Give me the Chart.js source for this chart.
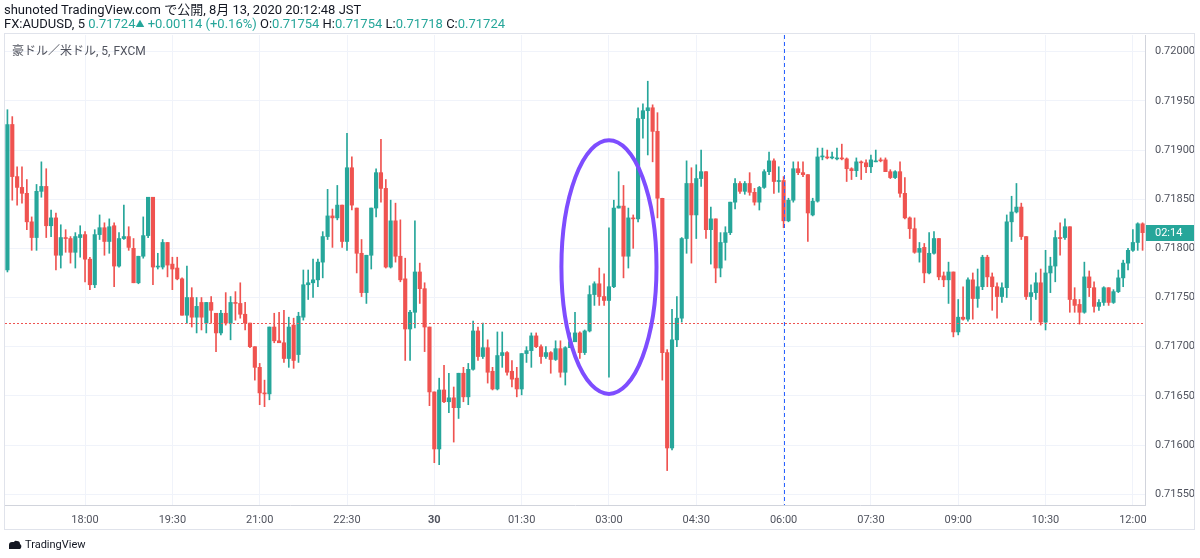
<!DOCTYPE html>
<html>
<head>
<meta charset="utf-8">
<script src="https://cdn.jsdelivr.net/npm/chart.js@4.4.0/dist/chart.umd.min.js"></script>
<style>
  html, body { margin: 0; padding: 0; background: #fff; }
  body { width: 1200px; height: 558px; position: relative; overflow: hidden;
         font-family: Roboto, "Noto Sans CJK JP", sans-serif; color: #131722; }
  #wrap { position: absolute; left: 0; top: 0; width: 1200px; height: 558px; }
  .hdr { position: absolute; left: 4px; font-size: 13px; white-space: nowrap; line-height: 14px; }
  .up { color: #26a69a; }
  .tri { font-size: 9px; vertical-align: 1px; }
  #frame { position: absolute; left: 4px; top: 33px; width: 1191px; height: 497px; border: 1px solid #e0e3eb; box-sizing: border-box; pointer-events: none; }
  #legend { position: absolute; left: 12px; top: 41px; font-size: 12px; color: #50535e; white-space: nowrap; }
  #footer { position: absolute; left: 8px; top: 538px; font-size: 11px; color: #131722; display: flex; align-items: center; gap: 3px; }
</style>
</head>
<body>
<div id="wrap"><canvas id="chart"></canvas></div>
<div id="frame"></div>
<div class="hdr" style="top:3px">shunoted TradingView.com で公開, 8月 13, 2020 20:12:48 JST</div>
<div class="hdr" style="top:17px">FX:AUDUSD, 5 <span class="up">0.71724<span class="tri">▲</span> +0.00114 (+0.16%)</span> O:<span class="up">0.71754</span> H:<span class="up">0.71754</span> L:<span class="up">0.71718</span> C:<span class="up">0.71724</span></div>
<div id="legend">豪ドル／米ドル, 5, FXCM</div>
<div id="footer">
  <svg width="14" height="10" viewBox="0 0 14 10"><path d="M1 9 L1 5 Q1 2 4 2 L6 2 Q7 0 9 1 Q12 1 12 4 Q14 5 13 8 L12 9 Z" fill="#131722"/></svg>
  <span>TradingView</span>
</div>
<script>
// 5-minute candles, 16:40 -> 12:10
const startMinutes = 16 * 60 + 40
const candleCount = 235
const times = []
for (let i = 0; i < candleCount; i++) {
  const m = (startMinutes + i * 5) % (24 * 60)
  times.push(String(Math.floor(m / 60)).padStart(2, '0') + ':' + String(m % 60).padStart(2, '0'))
}

const tickTimes = ['18:00', '19:30', '21:00', '22:30', '00:00', '01:30', '03:00', '04:30', '06:00', '07:30', '09:00', '10:30', '12:00']
const tickTexts = ['18:00', '19:30', '21:00', '22:30', '30', '01:30', '03:00', '04:30', '06:00', '07:30', '09:00', '10:30', '12:00']

const opens = [
  0.71778,0.71926,0.71873,0.71862,0.71856,0.71827,0.71811,0.71858,0.71863,0.71823,
  0.71831,0.71793,0.71811,0.71810,0.71796,0.71811,0.71814,0.71789,0.71763,0.71814,
  0.71821,0.71807,0.71823,0.71782,0.71810,0.71812,0.71800,0.71765,0.71792,0.71813,
  0.71852,0.71781,0.71781,0.71806,0.71784,0.71780,0.71769,0.71732,0.71750,0.71730,
  0.71745,0.71724,0.71745,0.71734,0.71714,0.71734,0.71724,0.71745,0.71744,0.71733,
  0.71724,0.71700,0.71679,0.71653,0.71652,0.71720,0.71706,0.71704,0.71688,0.71722,
  0.71692,0.71730,0.71763,0.71765,0.71768,0.71786,0.71812,0.71833,0.71831,0.71844,
  0.71807,0.71882,0.71841,0.71795,0.71755,0.71793,0.71841,0.71877,0.71861,0.71781,
  0.71828,0.71792,0.71769,0.71718,0.71735,0.71776,0.71759,0.71720,0.71654,0.71596,
  0.71656,0.71644,0.71648,0.71638,0.71673,0.71649,0.71677,0.71716,0.71690,0.71699,
  0.71675,0.71657,0.71691,0.71694,0.71675,0.71668,0.71657,0.71693,0.71696,0.71711,
  0.71700,0.71690,0.71694,0.71687,0.71698,0.71674,0.71699,0.71705,0.71714,0.71694,
  0.71716,0.71753,0.71764,0.71751,0.71747,0.71761,0.71841,0.71843,0.71792,0.71831,
  0.71830,0.71932,0.71940,0.71943,0.71919,0.71851,0.71694,0.71597,0.71707,0.71729,
  0.71810,0.71866,0.71834,0.71871,0.71878,0.71819,0.71830,0.71780,0.71806,0.71816,
  0.71847,0.71866,0.71858,0.71866,0.71857,0.71847,0.71862,0.71878,0.71889,0.71868,
  0.71869,0.71828,0.71849,0.71881,0.71877,0.71875,0.71834,0.71848,0.71893,0.71893,
  0.71892,0.71891,0.71892,0.71891,0.71881,0.71879,0.71888,0.71887,0.71883,0.71888,
  0.71890,0.71890,0.71878,0.71872,0.71878,0.71856,0.71831,0.71820,0.71796,0.71801,
  0.71775,0.71795,0.71810,0.71772,0.71768,0.71776,0.71715,0.71730,0.71728,0.71768,
  0.71749,0.71761,0.71791,0.71771,0.71761,0.71751,0.71760,0.71827,0.71837,0.71842,
  0.71812,0.71751,0.71755,0.71765,0.71725,0.71775,0.71782,0.71811,0.71811,0.71822,
  0.71748,0.71743,0.71735,0.71771,0.71760,0.71741,0.71745,0.71760,0.71745,0.71756,
  0.71770,0.71785,0.71798,0.71806,0.71825
]
const highs = [
  0.71941,0.71934,0.71883,0.71883,0.71870,0.71832,0.71865,0.71888,0.71881,0.71839,
  0.71836,0.71824,0.71819,0.71812,0.71816,0.71823,0.71817,0.71791,0.71819,0.71834,
  0.71826,0.71830,0.71826,0.71816,0.71844,0.71822,0.71810,0.71792,0.71832,0.71852,
  0.71852,0.71795,0.71809,0.71806,0.71791,0.71791,0.71770,0.71782,0.71760,0.71750,
  0.71750,0.71745,0.71751,0.71734,0.71737,0.71755,0.71751,0.71756,0.71765,0.71745,
  0.71724,0.71700,0.71683,0.71666,0.71720,0.71734,0.71735,0.71737,0.71730,0.71729,
  0.71735,0.71778,0.71778,0.71789,0.71789,0.71817,0.71860,0.71840,0.71864,0.71844,
  0.71917,0.71893,0.71841,0.71809,0.71793,0.71841,0.71881,0.71911,0.71870,0.71849,
  0.71846,0.71829,0.71790,0.71737,0.71828,0.71785,0.71765,0.71720,0.71654,0.71668,
  0.71681,0.71673,0.71659,0.71673,0.71679,0.71683,0.71726,0.71720,0.71724,0.71707,
  0.71679,0.71715,0.71715,0.71695,0.71686,0.71679,0.71693,0.71700,0.71714,0.71714,
  0.71702,0.71700,0.71695,0.71706,0.71706,0.71700,0.71714,0.71735,0.71715,0.71717,
  0.71762,0.71766,0.71780,0.71774,0.71821,0.71849,0.71878,0.71864,0.71841,0.71834,
  0.71943,0.71947,0.71970,0.71946,0.71938,0.71851,0.71697,0.71738,0.71751,0.71811,
  0.71889,0.71882,0.71885,0.71900,0.71878,0.71842,0.71830,0.71816,0.71822,0.71847,
  0.71871,0.71868,0.71868,0.71877,0.71861,0.71863,0.71880,0.71898,0.71891,0.71883,
  0.71873,0.71851,0.71888,0.71888,0.71888,0.71875,0.71851,0.71902,0.71902,0.71900,
  0.71898,0.71902,0.71906,0.71892,0.71882,0.71892,0.71889,0.71890,0.71895,0.71900,
  0.71892,0.71892,0.71880,0.71879,0.71888,0.71872,0.71832,0.71831,0.71806,0.71805,
  0.71816,0.71817,0.71810,0.71776,0.71786,0.71776,0.71748,0.71761,0.71770,0.71775,
  0.71779,0.71793,0.71793,0.71775,0.71765,0.71765,0.71834,0.71853,0.71866,0.71846,
  0.71812,0.71763,0.71775,0.71779,0.71798,0.71791,0.71818,0.71826,0.71830,0.71822,
  0.71760,0.71748,0.71786,0.71777,0.71766,0.71748,0.71761,0.71760,0.71758,0.71778,
  0.71788,0.71800,0.71819,0.71826,0.71826
]
const lows = [
  0.71776,0.71849,0.71844,0.71846,0.71819,0.71798,0.71798,0.71852,0.71811,0.71812,
  0.71778,0.71780,0.71796,0.71785,0.71780,0.71791,0.71766,0.71758,0.71760,0.71809,
  0.71793,0.71795,0.71761,0.71781,0.71809,0.71798,0.71765,0.71764,0.71790,0.71811,
  0.71763,0.71779,0.71779,0.71771,0.71758,0.71768,0.71732,0.71724,0.71720,0.71714,
  0.71717,0.71714,0.71724,0.71695,0.71712,0.71722,0.71707,0.71727,0.71729,0.71717,
  0.71699,0.71666,0.71641,0.71639,0.71646,0.71704,0.71704,0.71684,0.71679,0.71678,
  0.71684,0.71727,0.71748,0.71750,0.71761,0.71770,0.71809,0.71801,0.71829,0.71801,
  0.71798,0.71839,0.71775,0.71751,0.71744,0.71779,0.71832,0.71847,0.71780,0.71780,
  0.71786,0.71766,0.71686,0.71686,0.71719,0.71744,0.71695,0.71640,0.71582,0.71580,
  0.71643,0.71633,0.71603,0.71627,0.71644,0.71641,0.71676,0.71686,0.71688,0.71663,
  0.71656,0.71656,0.71679,0.71671,0.71659,0.71649,0.71651,0.71684,0.71679,0.71699,
  0.71683,0.71688,0.71673,0.71686,0.71669,0.71661,0.71699,0.71705,0.71688,0.71692,
  0.71715,0.71742,0.71742,0.71742,0.71669,0.71760,0.71841,0.71770,0.71780,0.71800,
  0.71827,0.71912,0.71895,0.71888,0.71831,0.71666,0.71574,0.71595,0.71700,0.71725,
  0.71795,0.71785,0.71810,0.71863,0.71810,0.71784,0.71765,0.71771,0.71788,0.71814,
  0.71840,0.71856,0.71855,0.71854,0.71844,0.71839,0.71861,0.71875,0.71856,0.71857,
  0.71821,0.71827,0.71847,0.71875,0.71873,0.71807,0.71833,0.71847,0.71890,0.71891,
  0.71891,0.71890,0.71890,0.71868,0.71870,0.71873,0.71870,0.71877,0.71877,0.71888,
  0.71888,0.71878,0.71871,0.71871,0.71852,0.71830,0.71810,0.71795,0.71786,0.71765,
  0.71774,0.71794,0.71768,0.71761,0.71744,0.71710,0.71712,0.71727,0.71726,0.71728,
  0.71740,0.71758,0.71761,0.71737,0.71729,0.71745,0.71750,0.71807,0.71836,0.71809,
  0.71748,0.71727,0.71748,0.71722,0.71717,0.71755,0.71766,0.71793,0.71809,0.71735,
  0.71735,0.71723,0.71734,0.71751,0.71735,0.71737,0.71742,0.71742,0.71744,0.71755,
  0.71761,0.71778,0.71797,0.71798,0.71798
]
const closes = [
  0.71926,0.71873,0.71862,0.71856,0.71827,0.71811,0.71858,0.71863,0.71823,0.71831,
  0.71793,0.71811,0.71810,0.71796,0.71812,0.71814,0.71789,0.71763,0.71814,0.71821,
  0.71807,0.71822,0.71782,0.71810,0.71812,0.71801,0.71765,0.71792,0.71813,0.71852,
  0.71781,0.71782,0.71806,0.71783,0.71779,0.71769,0.71732,0.71750,0.71730,0.71741,
  0.71730,0.71745,0.71737,0.71714,0.71734,0.71724,0.71745,0.71744,0.71733,0.71724,
  0.71700,0.71679,0.71653,0.71652,0.71720,0.71706,0.71704,0.71688,0.71720,0.71686,
  0.71731,0.71763,0.71765,0.71768,0.71786,0.71812,0.71833,0.71831,0.71844,0.71807,
  0.71882,0.71844,0.71795,0.71755,0.71793,0.71841,0.71877,0.71861,0.71781,0.71828,
  0.71792,0.71768,0.71718,0.71735,0.71776,0.71759,0.71720,0.71654,0.71596,0.71656,
  0.71644,0.71648,0.71638,0.71673,0.71649,0.71677,0.71716,0.71690,0.71699,0.71674,
  0.71657,0.71691,0.71694,0.71674,0.71667,0.71657,0.71693,0.71696,0.71711,0.71700,
  0.71690,0.71694,0.71687,0.71698,0.71674,0.71699,0.71705,0.71714,0.71694,0.71716,
  0.71753,0.71764,0.71751,0.71747,0.71761,0.71841,0.71843,0.71792,0.71831,0.71830,
  0.71932,0.71940,0.71943,0.71919,0.71851,0.71694,0.71597,0.71707,0.71729,0.71810,
  0.71866,0.71834,0.71871,0.71878,0.71819,0.71830,0.71780,0.71806,0.71816,0.71847,
  0.71866,0.71858,0.71866,0.71857,0.71847,0.71862,0.71878,0.71889,0.71868,0.71869,
  0.71828,0.71849,0.71881,0.71877,0.71875,0.71836,0.71848,0.71893,0.71894,0.71892,
  0.71893,0.71892,0.71891,0.71881,0.71879,0.71888,0.71887,0.71883,0.71890,0.71889,
  0.71889,0.71878,0.71872,0.71878,0.71856,0.71831,0.71820,0.71796,0.71800,0.71775,
  0.71795,0.71810,0.71771,0.71768,0.71776,0.71715,0.71730,0.71728,0.71768,0.71749,
  0.71761,0.71791,0.71771,0.71761,0.71751,0.71760,0.71827,0.71837,0.71842,0.71812,
  0.71751,0.71755,0.71765,0.71725,0.71775,0.71782,0.71811,0.71810,0.71822,0.71748,
  0.71742,0.71735,0.71771,0.71760,0.71741,0.71745,0.71760,0.71745,0.71756,0.71770,
  0.71785,0.71798,0.71806,0.71825,0.71816
]

// reference lines / marks
const lastPriceLine = 0.71724
const sessionBreak = '06:00'
const countdownText = '02:14'
const ellipseMark = { center: '03:00', halfBars: 9.8, top: 0.71910, bottom: 0.71652 }

const UP = '#26a69a'
const DOWN = '#ef5350'
const candleColors = opens.map((o, i) => closes[i] >= o ? UP : DOWN)

const overlays = {
  id: 'overlays',
  afterDatasetsDraw(chart) {
    const { ctx, chartArea: a, scales: { x, y } } = chart
    ctx.save()
    ctx.beginPath()
    ctx.rect(a.left, a.top, a.right - a.left, a.bottom - a.top)
    ctx.clip()

    // last price dotted line
    const ly = Math.round(y.getPixelForValue(lastPriceLine)) + 0.5
    ctx.strokeStyle = DOWN
    ctx.lineWidth = 1
    ctx.setLineDash([2, 2])
    ctx.beginPath(); ctx.moveTo(a.left, ly); ctx.lineTo(a.right, ly); ctx.stroke()

    // session break
    const sx = Math.round(x.getPixelForValue(times.indexOf(sessionBreak))) + 0.5
    ctx.strokeStyle = '#2962ff'
    ctx.setLineDash([4, 3])
    ctx.beginPath(); ctx.moveTo(sx, a.top); ctx.lineTo(sx, a.bottom); ctx.stroke()

    // hand-drawn ellipse
    ctx.setLineDash([])
    const ci = times.indexOf(ellipseMark.center)
    const cx = x.getPixelForValue(ci)
    const rx = x.getPixelForValue(ci + ellipseMark.halfBars) - cx
    const ty = y.getPixelForValue(ellipseMark.top)
    const by = y.getPixelForValue(ellipseMark.bottom)
    ctx.strokeStyle = '#7e4dff'
    ctx.lineWidth = 4
    ctx.beginPath()
    ctx.ellipse(cx, (ty + by) / 2, rx, (by - ty) / 2, 0, 0, Math.PI * 2)
    ctx.stroke()
    ctx.restore()
  },
  afterDraw(chart) {
    const { ctx, chartArea: a, scales: { y } } = chart
    const py = y.getPixelForValue(closes[closes.length - 1])
    ctx.save()
    ctx.fillStyle = UP
    ctx.fillRect(a.right + 1, Math.round(py) - 8, 48, 16)
    ctx.fillStyle = '#fff'
    ctx.font = '11px Roboto, sans-serif'
    ctx.textBaseline = 'middle'
    ctx.fillText(countdownText, a.right + 10, Math.round(py))
    ctx.restore()
  }
}

Chart.defaults.font.family = 'Roboto, "Noto Sans CJK JP", sans-serif'
Chart.defaults.font.size = 11
Chart.defaults.color = '#50535e'

new Chart(document.getElementById('chart'), {
  type: 'bar',
  data: {
    labels: times,
    datasets: [
      {
        label: 'body',
        data: opens.map((o, i) => [o, closes[i]]),
        backgroundColor: candleColors,
        barThickness: 3.5,
        grouped: false,
        borderWidth: 0,
        borderSkipped: false
      },
      {
        label: 'wick',
        data: lows.map((l, i) => [l, highs[i]]),
        backgroundColor: candleColors,
        barThickness: 1,
        grouped: false,
        borderWidth: 0,
        borderSkipped: false
      }
    ]
  },
  options: {
    responsive: true,
    maintainAspectRatio: false,
    animation: false,
    layout: { padding: { left: 5, top: 35, right: 4, bottom: 28 } },
    plugins: { legend: { display: false }, tooltip: { enabled: false } },
    scales: {
      x: {
        grid: { color: '#f0f3fa', offset: false, drawTicks: false },
        border: { color: '#d1d4dc' },
        ticks: {
          autoSkip: false,
          maxRotation: 0,
          padding: 9,
          color: '#50535e',
          font: ctx => ({ weight: ctx.tick && ctx.tick.label === '30' ? 'bold' : 'normal' }),
          callback: function(value, index) {
            const k = tickTimes.indexOf(times[index])
            return k === -1 ? null : tickTexts[k]
          }
        },
        afterFit(scale) { scale.height = 25 }
      },
      y: {
        position: 'right',
        min: 0.71539,
        max: 0.72017,
        grid: { color: '#f0f3fa', drawTicks: false },
        border: { color: '#d1d4dc' },
        ticks: {
          stepSize: 0.0005,
          includeBounds: false,
          padding: 10,
          color: '#50535e',
          callback: v => v.toFixed(5)
        },
        afterFit(scale) { scale.width = 51 }
      }
    }
  },
  plugins: [overlays]
})
</script>
</body>
</html>
